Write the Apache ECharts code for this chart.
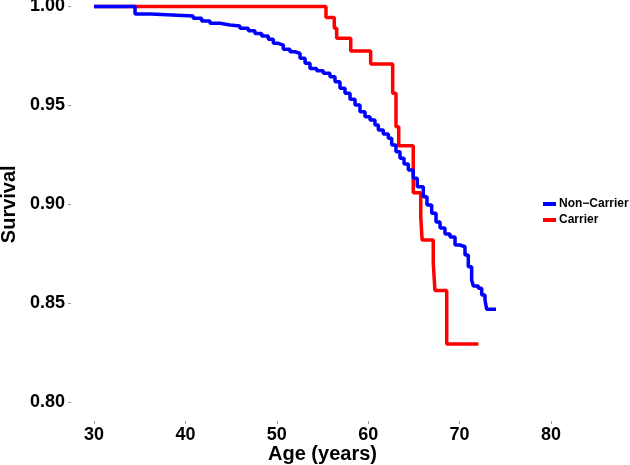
<!DOCTYPE html>
<html>
<head>
<meta charset="utf-8">
<script src="https://cdn.jsdelivr.net/npm/echarts@6/dist/echarts.min.js"></script>
<style>
html,body{margin:0;padding:0;background:#fff;}
#chart{width:630px;height:465px;}
</style>
</head>
<body>
<div id="chart"></div>
<script>
// Kaplan-Meier step points (age at event, survival after event)
const nonCarrierAge = [30, 34.49, 36.24, 40.86, 41.78, 42.69, 43.79, 44.88, 45.97, 46.88, 47.61, 48.35, 49.07, 49.62, 50.16, 50.71, 51.44, 51.99, 52.54, 53.09, 53.63, 54.37, 55.09, 55.82, 56.37, 56.91, 57.46, 58.01, 58.56, 59.10, 59.65, 60.20, 60.74, 61.11, 61.65, 62.20, 62.57, 63.04, 63.48, 63.92, 64.39, 64.93, 65.37, 66.03, 66.43, 66.95, 67.42, 67.86, 68.40, 68.95, 69.50, 70.04, 70.59, 70.95, 71.32, 71.50, 72.05, 72.42, 72.78, 72.96, 73.98];
const nonCarrierSurv = [1.000, 0.9962, 0.9952, 0.9940, 0.9927, 0.9915, 0.9906, 0.9901, 0.9890, 0.9878, 0.9864, 0.9851, 0.9834, 0.9814, 0.9805, 0.9784, 0.9771, 0.9763, 0.9738, 0.9713, 0.9687, 0.9675, 0.9662, 0.9645, 0.9620, 0.9586, 0.9561, 0.9531, 0.9502, 0.9468, 0.9443, 0.9426, 0.9401, 0.9375, 0.9355, 0.9334, 0.9300, 0.9266, 0.9232, 0.9204, 0.9173, 0.9131, 0.9089, 0.9038, 0.8996, 0.8954, 0.8910, 0.8880, 0.8850, 0.8834, 0.8794, 0.8785, 0.8743, 0.8684, 0.8617, 0.8587, 0.8575, 0.8541, 0.8516, 0.8469, 0.8469];
const carrierAge = [30, 55.38, 56.29, 56.55, 58.09, 60.27, 62.68, 63.04, 63.34, 64.93, 65.75, 65.90, 67.12, 67.30, 68.59, 72.05];
const carrierSurv = [1.000, 0.9945, 0.9890, 0.9839, 0.9775, 0.9709, 0.9561, 0.9392, 0.9296, 0.9058, 0.8937, 0.8819, 0.8701, 0.8564, 0.8293, 0.8293];
const seriesNames = ['Non\u2212Carrier', 'Carrier'];
const xTicks = {min: 30, max: 80, interval: 10};
const yTicks = {min: 0.80, max: 1.00, interval: 0.05};

const zip = (a, b) => a.map((v, i) => [v, b[i]]);
const FONT = '"Liberation Sans", Arial, Helvetica, sans-serif';

const chart = echarts.init(document.getElementById('chart'), null, {renderer: 'canvas'});
chart.setOption({
  backgroundColor: '#fff',
  animation: false,
  grid: {left: 94, top: 6.5, width: 457, height: 395.5, outerBoundsMode: 'none', containLabel: false},
  legend: {
    data: seriesNames,
    orient: 'vertical',
    left: 543, top: 198,
    icon: 'rect',
    itemWidth: 13, itemHeight: 4, itemGap: 4,
    textStyle: {fontFamily: FONT, fontWeight: 'bold', fontSize: 12, color: '#000', padding: [0,0,0,-2]},
    padding: 0
  },
  xAxis: {
    type: 'value',
    min: xTicks.min, max: xTicks.max, interval: xTicks.interval,
    offset: 19,
    name: 'Age (years)', nameLocation: 'middle', nameGap: 23, nameMoveOverlap: false,
    nameTextStyle: {fontFamily: FONT, fontWeight: 'bold', fontSize: 20, color: '#000'},
    axisLine: {show: false},
    axisTick: {show: true, length: 3, lineStyle: {color: '#999'}},
    splitLine: {show: false},
    axisLabel: {fontFamily: FONT, fontWeight: 'bold', fontSize: 18, color: '#000', margin: 5}
  },
  yAxis: {
    type: 'value',
    min: yTicks.min, max: yTicks.max, interval: yTicks.interval,
    offset: 23,
    name: 'Survival', nameLocation: 'middle', nameGap: 52, nameMoveOverlap: false,
    nameTextStyle: {fontFamily: FONT, fontWeight: 'bold', fontSize: 20, color: '#000'},
    axisLine: {show: false},
    axisTick: {show: true, length: 3, lineStyle: {color: '#999'}},
    splitLine: {show: false},
    axisLabel: {fontFamily: FONT, fontWeight: 'bold', fontSize: 18, color: '#000', margin: 6,
      formatter: v => v.toFixed(2)}
  },
  series: [
    {
      name: seriesNames[1], type: 'line', step: 'end', clip: false,
      data: zip(carrierAge, carrierSurv), showSymbol: false, symbol: 'none',
      lineStyle: {color: '#FF0000', width: 3.5}, itemStyle: {color: '#FF0000'}
    },
    {
      name: seriesNames[0], type: 'line', step: 'end', clip: false,
      data: zip(nonCarrierAge, nonCarrierSurv), showSymbol: false, symbol: 'none',
      lineStyle: {color: '#0000FF', width: 3.5}, itemStyle: {color: '#0000FF'}
    }
  ]
});
</script>
</body>
</html>
